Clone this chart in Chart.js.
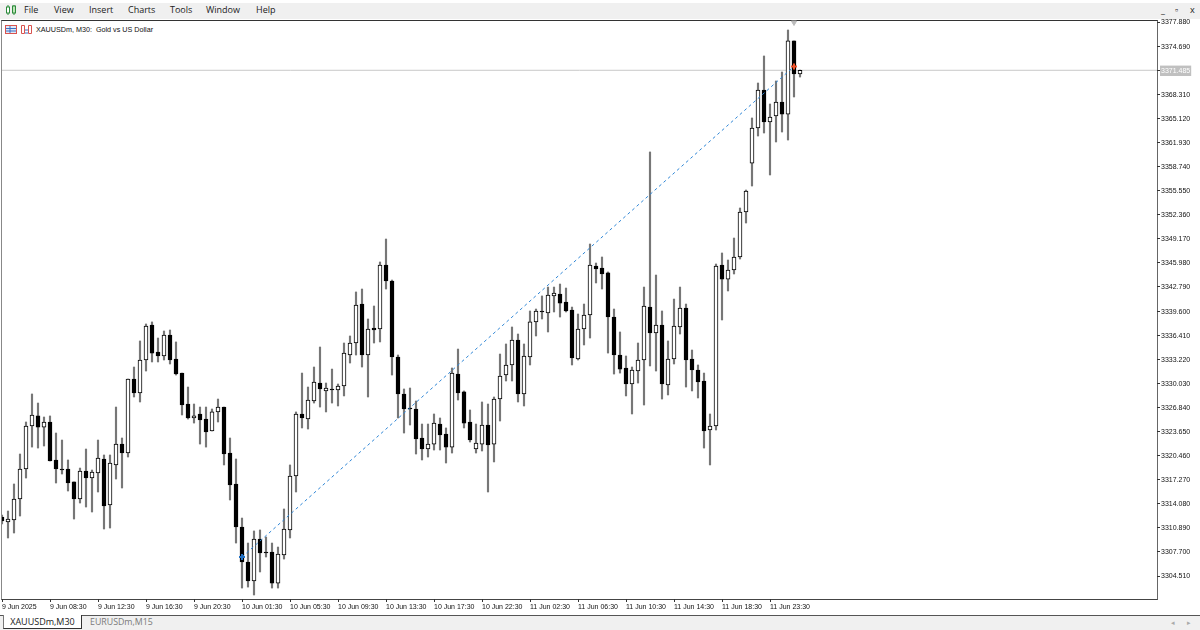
<!DOCTYPE html>
<html>
<head>
<meta charset="utf-8">
<script src="https://cdn.jsdelivr.net/npm/chart.js@4"></script>
<style>
html, body { margin: 0; padding: 0; background: #fff; }
#page { position: relative; width: 1200px; height: 630px; overflow: hidden; background: #fff; font-family: "Open Sans", sans-serif; }
#menu { position: absolute; left: 0; top: 3px; width: 1200px; height: 16px; background: #f0f0f0; }
#menu span { position: absolute; top: 0; font-size: 9px; line-height: 14px; color: #222; }
#frame { position: absolute; left: 1px; top: 20px; width: 1155px; height: 578px; border: 1px solid #444; border-left-color: #888; border-right-color: #666; border-top-color: #333; }
#chart { position: absolute; left: 0; top: 0; }
#title { position: absolute; left: 36px; top: 25px; font: 7.2px/10px "Liberation Sans", sans-serif; color: #111; white-space: pre; }
#tabs { position: absolute; left: 0; top: 615px; width: 1200px; height: 15px; background: #f0f0f0; border-top: 1px solid #555; box-sizing: border-box; }
#tab1 { position: absolute; left: 3px; top: -1px; width: 77px; height: 13px; background: #fff; border-left: 1px solid #777; border-right: 1px solid #333; border-bottom: 1px solid #333; font-size: 9px; line-height: 14px; text-align: center; color: #222; }
#tab2 { position: absolute; left: 90px; top: -1px; font-size: 8.8px; line-height: 15px; color: #7a7a7a; }
.arrow { position: absolute; top: 3px; font-size: 7px; line-height: 8px; color: #aaa; }
.win { position: absolute; top: 3px; font-size: 10px; line-height: 12px; color: #999; }
svg { position: absolute; }
</style>
</head>
<body>
<div id="page">
    <div id="menu">
        <svg style="left:5px;top:1px" width="12" height="12"><path d="M3 1v10M9 1v10" stroke="#2a8a3a"/><rect x="1.5" y="3" width="3" height="6" fill="#fff" stroke="#2a8a3a"/><rect x="7.5" y="2" width="3" height="7" fill="#bfe5b8" stroke="#2a8a3a"/></svg>
        <span style="left:24px">File</span>
        <span style="left:54px">View</span>
        <span style="left:89px">Insert</span>
        <span style="left:128px">Charts</span>
        <span style="left:170px">Tools</span>
        <span style="left:206px">Window</span>
        <span style="left:256px">Help</span>
        <span class="win" style="left:1161px">_</span>
        <span class="win" style="left:1175px">&#9643;</span>
        <span class="win" style="left:1190px">x</span>
    </div>
    <div id="frame"></div>
    <svg style="left:5px;top:25px" width="28" height="10"><rect x="0.5" y="0.5" width="11" height="8" fill="#dfe8f6" stroke="#d9534f"/><path d="M1 3.5h10M1 6h10" stroke="#3a6fc4"/><path d="M5 1v7" stroke="#3a6fc4"/><path d="M16.5 8.5v-8h3v8zM23.5 8.5v-8h3v8z" fill="#fff" stroke="#d9534f"/><path d="M20 5h3M20 8h3" stroke="#3a6fc4"/></svg>
    <div id="title">XAUUSDm, M30:  Gold vs US Dollar</div>
    <canvas id="chart" width="1200" height="630"></canvas>
    <div id="tabs">
        <div id="tab1">XAUUSDm,M30</div>
        <div id="tab2">EURUSDm,M15</div>
        <span class="arrow" style="left:1171px">&#9666;</span>
        <span class="arrow" style="left:1187px">&#9656;</span>
    </div>
</div>
<script>
// --- Data ---
const opens = [
    3312.32, 3311.67, 3311.93, 3314.71, 3318.69, 3324.38, 3325.71, 3324.24, 3324.91, 3319.88,
    3318.69, 3318.69, 3316.97, 3314.71, 3318.42, 3317.49, 3318.15, 3320.01, 3313.92, 3319.22,
    3321.99, 3320.80, 3330.60, 3328.75, 3333.12, 3337.76, 3334.18, 3333.65, 3336.43, 3333.25,
    3331.39, 3327.29, 3325.44, 3325.97, 3325.31, 3323.72, 3326.24, 3326.89, 3320.80, 3316.70,
    3311.00, 3306.37, 3303.85, 3309.41, 3307.70, 3307.70, 3303.58, 3307.30, 3310.61, 3317.76,
    3325.97, 3325.31, 3327.69, 3330.07, 3329.02, 3329.28, 3329.15, 3329.68, 3333.78, 3335.37,
    3340.53, 3333.78, 3337.35, 3337.22, 3345.70, 3343.58, 3333.52, 3328.62, 3326.76, 3326.63,
    3322.79, 3321.33, 3321.99, 3324.64, 3323.32, 3321.59, 3331.26, 3328.89, 3324.91, 3321.33,
    3321.99, 3324.51, 3321.99, 3327.95, 3331.13, 3332.46, 3335.77, 3328.62, 3333.52, 3338.16,
    3339.61, 3339.35, 3341.60, 3341.86, 3340.80, 3339.74, 3333.25, 3337.22, 3339.08, 3345.57,
    3345.30, 3344.65, 3338.81, 3333.78, 3332.06, 3329.94, 3331.66, 3333.12, 3340.13, 3336.69,
    3337.76, 3329.81, 3333.25, 3337.49, 3340.00, 3333.25, 3331.79, 3330.34, 3323.85, 3324.38,
    3345.70, 3343.84, 3345.04, 3346.76, 3352.72, 3359.20, 3363.84, 3368.87, 3364.64, 3365.43,
    3367.29, 3365.69, 3375.37, 3370.99
];
const highs = [
    3312.59, 3313.12, 3316.70, 3320.67, 3324.91, 3328.62, 3327.42, 3325.57, 3325.71, 3323.45,
    3322.52, 3319.88, 3316.97, 3318.81, 3321.33, 3318.55, 3322.52, 3320.54, 3320.54, 3326.89,
    3322.79, 3330.60, 3332.19, 3335.64, 3337.89, 3338.16, 3336.03, 3336.96, 3337.09, 3335.51,
    3331.39, 3329.54, 3327.29, 3326.89, 3326.89, 3326.63, 3327.95, 3326.89, 3322.79, 3320.01,
    3312.19, 3308.88, 3310.48, 3310.61, 3309.68, 3308.88, 3308.35, 3313.39, 3319.22, 3326.24,
    3331.39, 3329.54, 3332.19, 3334.84, 3330.07, 3331.92, 3329.94, 3335.37, 3336.30, 3342.13,
    3342.52, 3338.55, 3340.27, 3346.10, 3349.14, 3343.71, 3333.78, 3329.28, 3329.41, 3327.69,
    3324.64, 3324.64, 3325.97, 3325.44, 3324.12, 3332.06, 3334.57, 3329.02, 3326.50, 3324.64,
    3327.56, 3327.29, 3328.22, 3333.91, 3335.24, 3337.49, 3336.56, 3335.24, 3339.61, 3339.87,
    3341.60, 3342.78, 3342.78, 3343.18, 3342.65, 3340.13, 3339.21, 3340.53, 3348.48, 3345.96,
    3346.76, 3344.78, 3339.87, 3336.83, 3333.65, 3332.19, 3335.37, 3342.78, 3360.67, 3344.37,
    3339.61, 3335.64, 3341.19, 3342.78, 3340.53, 3334.44, 3332.46, 3331.39, 3325.97, 3345.83,
    3347.29, 3346.36, 3349.27, 3353.25, 3355.63, 3365.17, 3369.80, 3373.38, 3367.02, 3370.07,
    3371.26, 3376.82, 3375.37, 3371.52
];
const lows = [
    3311.40, 3309.55, 3310.21, 3312.46, 3317.49, 3321.59, 3321.46, 3321.73, 3319.75, 3316.83,
    3318.02, 3315.77, 3312.06, 3314.18, 3313.65, 3312.99, 3315.64, 3310.74, 3310.87, 3317.36,
    3316.17, 3320.27, 3328.22, 3327.56, 3331.66, 3332.86, 3332.86, 3333.12, 3332.59, 3331.13,
    3325.84, 3325.30, 3324.77, 3321.99, 3321.59, 3323.72, 3324.91, 3319.22, 3314.58, 3308.88,
    3302.92, 3303.05, 3302.00, 3305.05, 3307.03, 3302.92, 3302.92, 3306.76, 3309.55, 3315.64,
    3324.12, 3323.98, 3327.42, 3326.89, 3326.24, 3327.42, 3327.03, 3328.36, 3332.72, 3333.78,
    3332.19, 3328.22, 3335.37, 3335.51, 3342.52, 3331.13, 3325.44, 3323.45, 3324.51, 3320.67,
    3319.88, 3320.27, 3321.20, 3321.20, 3319.48, 3320.80, 3327.82, 3324.12, 3322.26, 3320.80,
    3321.07, 3315.64, 3319.62, 3325.04, 3330.34, 3330.34, 3327.56, 3327.03, 3332.46, 3336.30,
    3338.55, 3336.83, 3339.48, 3338.81, 3339.48, 3332.46, 3333.12, 3335.11, 3336.03, 3343.32,
    3342.52, 3334.04, 3331.26, 3331.39, 3328.36, 3325.97, 3330.07, 3327.16, 3332.33, 3331.66,
    3327.95, 3328.49, 3332.59, 3336.56, 3329.54, 3329.02, 3328.09, 3321.46, 3319.22, 3323.85,
    3338.42, 3342.26, 3344.51, 3346.49, 3351.26, 3356.16, 3362.78, 3363.18, 3357.62, 3361.99,
    3363.31, 3362.25, 3367.95, 3370.59
];
const closes = [
    3311.80, 3312.06, 3314.71, 3318.69, 3324.38, 3325.84, 3324.24, 3324.91, 3319.75, 3318.69,
    3318.55, 3316.83, 3314.71, 3318.42, 3317.49, 3318.29, 3320.14, 3313.79, 3319.48, 3321.99,
    3320.80, 3330.60, 3328.75, 3333.12, 3337.62, 3334.04, 3333.65, 3336.43, 3333.12, 3331.26,
    3327.16, 3325.44, 3325.71, 3325.17, 3323.59, 3326.24, 3326.89, 3320.67, 3316.57, 3311.00,
    3306.37, 3303.85, 3309.41, 3307.56, 3307.56, 3303.58, 3307.43, 3310.74, 3317.76, 3325.97,
    3325.44, 3327.82, 3330.21, 3329.28, 3329.41, 3329.15, 3329.68, 3334.04, 3335.37, 3340.40,
    3333.78, 3337.22, 3337.09, 3345.70, 3343.58, 3333.52, 3328.62, 3326.63, 3326.63, 3322.66,
    3321.33, 3321.99, 3324.77, 3323.19, 3321.59, 3331.39, 3328.75, 3324.77, 3322.52, 3322.12,
    3324.51, 3321.86, 3327.95, 3331.00, 3332.46, 3335.77, 3328.62, 3333.65, 3338.16, 3339.61,
    3339.48, 3341.73, 3341.99, 3340.66, 3339.61, 3333.38, 3337.22, 3339.08, 3345.70, 3345.17,
    3344.51, 3338.81, 3333.78, 3331.92, 3329.94, 3331.79, 3333.12, 3340.27, 3336.69, 3337.76,
    3329.94, 3333.25, 3337.62, 3340.00, 3333.12, 3331.79, 3330.21, 3323.72, 3324.38, 3345.57,
    3343.84, 3345.04, 3346.76, 3352.72, 3355.50, 3363.84, 3368.87, 3364.64, 3365.30, 3367.29,
    3365.69, 3375.37, 3370.99, 3371.485
];

const priceTicks = [
    3377.88, 3374.69, 3368.31, 3365.12, 3361.93, 3358.74, 3355.55, 3352.36, 3349.17, 3345.98,
    3342.79, 3339.60, 3336.41, 3333.22, 3330.03, 3326.84, 3323.65, 3320.46, 3317.27, 3314.08,
    3310.89, 3307.70, 3304.51
];
const bidPrice = 3371.485;

const timeBars = [0, 8, 16, 24, 32, 40, 48, 56, 64, 72, 80, 88, 96, 104, 112, 120, 128];
const timeLabels = [
    '9 Jun 2025', '9 Jun 08:30', '9 Jun 12:30', '9 Jun 16:30', '9 Jun 20:30',
    '10 Jun 01:30', '10 Jun 05:30', '10 Jun 09:30', '10 Jun 13:30', '10 Jun 17:30', '10 Jun 22:30',
    '11 Jun 02:30', '11 Jun 06:30', '11 Jun 10:30', '11 Jun 14:30', '11 Jun 18:30', '11 Jun 23:30'
];

// order line: opened at bar 40, closed at bar 132
const tradeBars = [40, 132];
const tradePrices = [3307.03, 3371.99];
const tradeColors = ['#1f6fc4', '#f0522a'];

const lastBar = 192.5;
const priceMin = 3301.47;
const priceMax = 3377.88;

const wicks = highs.map((h, i) => ({ x: i, y: [lows[i], h] }));
const bodies = opens.map((o, i) => ({ x: i, y: [o, closes[i]] }));
const isUp = closes.map((c, i) => c >= opens[i]);

// --- Chart ---
new Chart(document.getElementById('chart').getContext('2d'), {
    data: {
        datasets: [
            {
                type: 'line',
                data: [{ x: 0, y: bidPrice }, { x: lastBar, y: bidPrice }],
                borderColor: '#c8c8c8',
                borderWidth: 1,
                pointRadius: 0,
                order: 5
            },
            {
                type: 'bar',
                data: wicks,
                backgroundColor: '#777',
                borderWidth: 0,
                barThickness: 1.5,
                grouped: false,
                order: 4
            },
            {
                type: 'bar',
                data: bodies,
                backgroundColor: isUp.map(up => up ? '#fff' : '#000'),
                borderColor: '#000',
                borderWidth: 1,
                borderSkipped: false,
                barThickness: 4,
                grouped: false,
                order: 3
            },
            {
                type: 'line',
                data: tradeBars.map((b, i) => ({ x: b, y: tradePrices[i] })),
                borderColor: '#2f86d6',
                borderWidth: 1,
                borderDash: [3, 3],
                pointStyle: 'cross',
                pointRadius: 3,
                pointBorderWidth: 2,
                pointBorderColor: tradeColors,
                order: 2
            },
            {
                type: 'line',
                data: [{ x: 132, y: 3377.81 }],
                pointStyle: 'triangle',
                pointRotation: 180,
                pointRadius: 3,
                pointBackgroundColor: '#bbb',
                pointBorderColor: '#bbb',
                showLine: false,
                clip: false,
                order: 1
            }
        ]
    },
    options: {
        responsive: false,
        animation: false,
        layout: { autoPadding: false, padding: { left: 2, top: 22, right: 0, bottom: 0 } },
        plugins: { legend: { display: false }, tooltip: { enabled: false } },
        scales: {
            x: {
                type: 'linear',
                offset: false,
                min: 0,
                max: lastBar,
                afterBuildTicks: axis => { axis.ticks = timeBars.map(v => ({ value: v })); },
                afterFit: axis => {
                    axis.height = 31;
                    axis.paddingLeft = 0;
                    axis.paddingRight = 0;
                },
                border: { display: false },
                grid: { drawOnChartArea: false, tickLength: 3, color: '#333', offset: false },
                ticks: {
                    autoSkip: false,
                    maxRotation: 0,
                    align: 'start',
                    padding: 1,
                    color: '#111',
                    font: { family: 'Liberation Sans', size: 7 },
                    callback: (v, i) => timeLabels[i]
                }
            },
            y: {
                position: 'right',
                min: priceMin,
                max: priceMax,
                afterBuildTicks: axis => {
                    axis.ticks = priceTicks.concat(bidPrice).map(v => ({ value: v }));
                },
                afterFit: axis => { axis.width = 43; },
                border: { display: false },
                grid: { drawOnChartArea: false, tickLength: 3, color: '#333' },
                ticks: {
                    autoSkip: false,
                    padding: 1,
                    labelOffset: 0.5,
                    font: { family: 'Liberation Sans', size: 7 },
                    color: ctx => ctx.tick.value === bidPrice ? '#fff' : '#111',
                    showLabelBackdrop: ctx => ctx.tick.value === bidPrice,
                    backdropColor: '#c0c0c0',
                    backdropPadding: 1,
                    callback: v => v.toFixed(3)
                }
            }
        }
    }
});
</script>
</body>
</html>
